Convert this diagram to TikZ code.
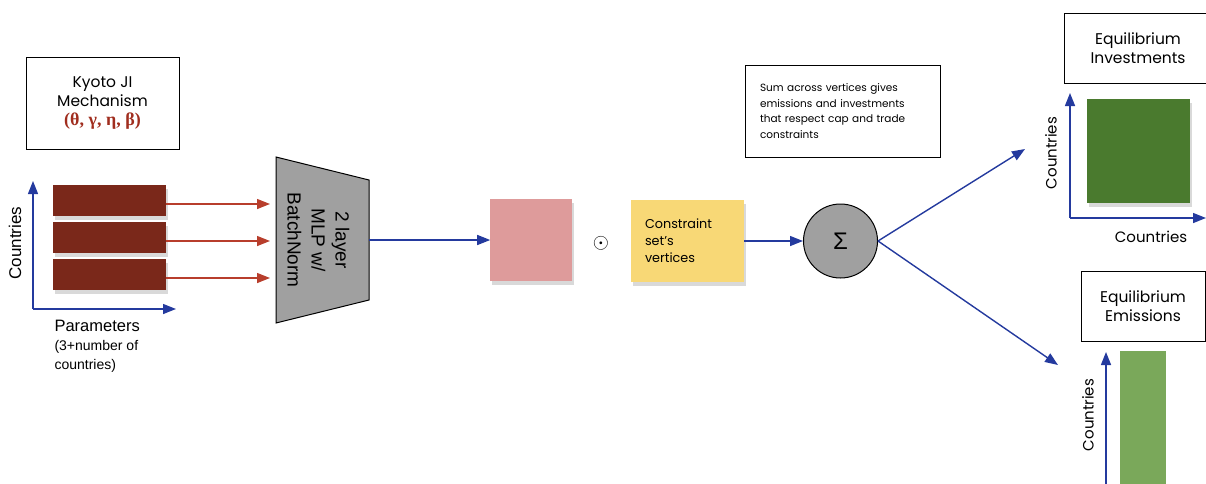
\documentclass[tikz,border=0pt]{standalone}
\usepackage{fontspec}
\setmainfont{Liberation Sans}
\newfontfamily\boxfont{Poppins}
\newfontfamily\greekfont{Liberation Serif}
\usetikzlibrary{arrows.meta, positioning, shadows}

\definecolor{barred}{RGB}{122,40,26}
\definecolor{arrowred}{RGB}{184,62,44}
\definecolor{thetared}{RGB}{160,45,30}
\definecolor{axisblue}{RGB}{36,58,158}
\definecolor{mlpgray}{RGB}{160,160,160}
\definecolor{weightpink}{RGB}{222,155,155}
\definecolor{vertyellow}{RGB}{248,216,118}
\definecolor{invgreen}{RGB}{74,122,46}
\definecolor{emigreen}{RGB}{122,168,90}

\begin{document}
\begin{tikzpicture} [
						x=1pt, y=-1pt,
						softshadow/.style={drop shadow={shadow xshift=2pt, shadow yshift=-4pt, opacity=0.3}},
						infobox/.style={draw, line width=1pt, fill=white, align=center, font=\boxfont\fontsize{15.5}{19}\selectfont},
						parbar/.style={fill=barred, minimum width=113pt, minimum height=31pt, inner sep=0pt, softshadow},
						bluearrow/.style={-{Triangle[length=13pt, width=10pt]}, draw=axisblue, line width=1.4pt},
						redarrow/.style={-{Triangle[length=13pt, width=10pt]}, draw=arrowred, line width=1.4pt},
						axislab/.style={font=\fontsize{17}{20}\selectfont},
						outlab/.style={font=\boxfont\fontsize{15}{18}\selectfont}
					]

\clip (0,0) rectangle (1206,483);

% input parameters
\node (kyoto) [infobox, minimum width=153pt, minimum height=92pt] at (102.5,103) {Kyoto JI\\Mechanism\\{\greekfont\bfseries\fontsize{18}{19}\selectfont\color{thetared}(θ, γ, η, β)}};
\node (bar1) [parbar] at (109.5,200) {};
\node (bar2) [parbar, below=6pt of bar1] {};
\node (bar3) [parbar, below=6pt of bar2] {};

\coordinate (porig) at (33,309);
\coordinate (py) at (33,181);
\coordinate (px) at (176,309);
\draw[bluearrow] (porig) -- (py);
\draw[bluearrow] (porig) -- (px);
\node (pylab) [axislab, rotate=90] at (15,243) {Countries};
\node (pxlab) [anchor=north west, align=left, font=\fontsize{14}{19}\selectfont] at (51,317) {{\fontsize{16.5}{19}\selectfont Parameters}\\(3+number of\\countries)};

% network
\draw[fill=mlpgray, line width=1pt] (276,157) -- (369,180) -- (369,300) -- (276,323) -- cycle;
\node (mlp) [minimum width=93pt, minimum height=166pt, inner sep=0pt,
	label={[xshift=-6pt, font=\fontsize{19}{24}\selectfont]center:\rotatebox{-90}{\begin{tabular}{@{}c@{}}2 layer\\MLP w/\\BatchNorm\end{tabular}}}] at (322.5,240) {};

\coordinate (in1) at (270,204);
\coordinate (in2) at (270,241);
\coordinate (in3) at (270,278);
\draw[redarrow] (bar1.east |- in1) -- (in1);
\draw[redarrow] (bar2.east |- in2) -- (in2);
\draw[redarrow] (bar3.east |- in3) -- (in3);

\node (weights) [fill=weightpink, minimum size=82pt, inner sep=0pt, softshadow, right=121pt of mlp] {};
\node (odot) [font=\fontsize{20}{20}\selectfont] at (601,243) {$\odot$};
\node (verts) [fill=vertyellow, minimum height=82pt, text width=85pt, inner xsep=14pt, align=left, softshadow,
	font=\boxfont\fontsize{12.8}{17}\selectfont] at (687.5,241) {Constraint\\set’s\\vertices};
\node (sum) [circle, draw, line width=1pt, fill=mlpgray, minimum size=74pt, inner sep=0pt,
	font=\fontsize{24}{24}\selectfont] at (840.5,241) {Σ};
\node (note) [draw, line width=1pt, minimum height=92pt, text width=165pt, inner xsep=15pt, align=left,
	font=\boxfont\fontsize{10.5}{15.5}\selectfont] at (842.5,111) {Sum across vertices gives\\emissions and investments\\that respect cap and trade\\constraints};

\draw[bluearrow] (mlp.east) -- (weights);
\draw[bluearrow] (verts.east) -- (sum.west);

% outputs
\coordinate (invtip) at (1025,149);
\coordinate (emtip) at (1058,365);
\draw[bluearrow] (sum.east) -- (invtip);
\draw[bluearrow] (sum.east) -- (emtip);

\node (eqinv) [infobox, minimum width=148pt, minimum height=70pt] at (1138,48) {Equilibrium\\Investments};
\node (invmat) [fill=invgreen, minimum width=103pt, minimum height=104pt, inner sep=0pt, softshadow] at (1138.5,151) {};
\coordinate (iorig) at (1070,218);
\coordinate (iy) at (1070,93);
\coordinate (ix) at (1206,218);
\draw[bluearrow] (iorig) -- (iy);
\draw[bluearrow] (iorig) -- (ix);
\node (iylab) [outlab, rotate=90] at (1051,153) {Countries};
\node (ixlab) [outlab] at (1151,237) {Countries};

\node (eqemi) [infobox, minimum width=124pt, minimum height=70pt] at (1143,306) {Equilibrium\\Emissions};
\node (emivec) [fill=emigreen, minimum width=46pt, minimum height=140pt, inner sep=0pt] at (1143,421) {};
\coordinate (eorig) at (1106,490);
\coordinate (ey) at (1106,352);
\draw[bluearrow] (eorig) -- (ey);
\node (eylab) [outlab, rotate=90] at (1088,415) {Countries};
\end{tikzpicture}
\end{document}
